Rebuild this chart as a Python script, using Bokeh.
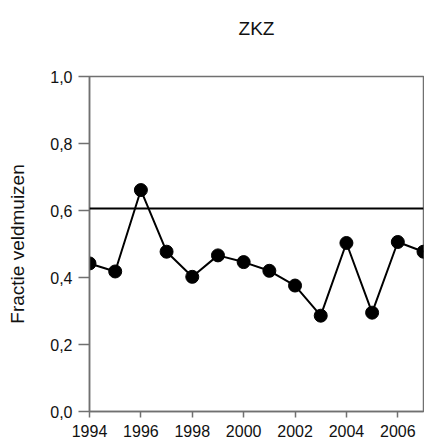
from bokeh.plotting import figure
from bokeh.models import FixedTicker, CustomJSTickFormatter, Range1d, Span
from bokeh.embed import file_html
from bokeh.resources import INLINE

years = [1994, 1995, 1996, 1997, 1998, 1999, 2000, 2001, 2002, 2003, 2004, 2005, 2006, 2007]
fractie = [0.442, 0.418, 0.661, 0.477, 0.402, 0.466, 0.446, 0.420, 0.376, 0.286, 0.503, 0.295, 0.506, 0.477]
reference_level = 0.606
x_ticks = [1994, 1996, 1998, 2000, 2002, 2004, 2006]
y_ticks = [0.0, 0.2, 0.4, 0.6, 0.8, 1.0]
title_text = "ZKZ"

FONT = "Liberation Sans"
GRAY = "#707070"

p = figure(width=424, height=444, output_backend="svg", toolbar_location=None,
           x_range=Range1d(1994, 2007), y_range=Range1d(0, 1.0),
           min_border_left=89, min_border_right=1, min_border_top=76, min_border_bottom=33,
           title=title_text + "\n ")
p.title.align = "center"
p.title.vertical_align = "top"
p.title.text_font = FONT
p.title.text_font_size = "19px"
p.title.text_font_style = "normal"
p.title.text_color = "#111111"
p.title.offset = -1
p.title.standoff = 30

p.xgrid.visible = False
p.ygrid.visible = False
p.outline_line_color = GRAY
p.outline_line_width = 1.5
p.background_fill_color = "white"
p.border_fill_color = "white"

p.add_layout(Span(location=reference_level, dimension="width", line_color="black", line_width=2))
p.line(years, fractie, line_color="black", line_width=2)
p.scatter(years, fractie, size=13, fill_color="black", line_color="black")

p.xaxis.ticker = FixedTicker(ticks=x_ticks)
p.yaxis.ticker = FixedTicker(ticks=y_ticks)
p.yaxis.formatter = CustomJSTickFormatter(code="return tick.toFixed(1).replace('.', ',');")
p.xaxis.formatter = CustomJSTickFormatter(code="return tick.toFixed(0);")

for ax in (p.xaxis[0], p.yaxis[0]):
    ax.axis_line_color = GRAY
    ax.axis_line_width = 1.5
    ax.major_tick_line_color = GRAY
    ax.major_tick_line_width = 1.5
    ax.minor_tick_line_color = None
    ax.major_tick_in = 0
    ax.major_label_text_font = FONT
    ax.major_label_text_font_size = "16px"
    ax.major_label_text_color = "#111111"

p.yaxis.major_tick_out = 11
p.xaxis.major_tick_out = 6
p.yaxis.major_label_standoff = 6
p.xaxis.major_label_standoff = 7
p.yaxis.axis_label = "Fractie veldmuizen"
p.yaxis.axis_label_text_font = FONT
p.yaxis.axis_label_text_font_size = "19px"
p.yaxis.axis_label_text_font_style = "normal"
p.yaxis.axis_label_text_color = "#111111"
p.yaxis.axis_label_standoff = 19

open("out.html", "w").write(file_html(p, INLINE))
